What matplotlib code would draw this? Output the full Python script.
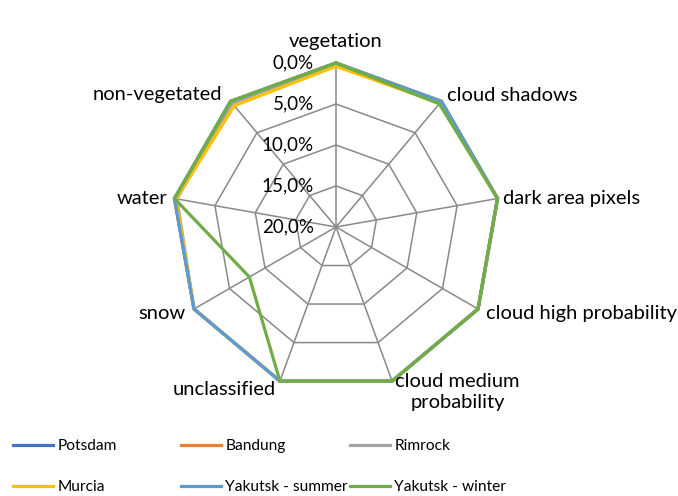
import numpy as np
import matplotlib
matplotlib.use('Agg')
from matplotlib import pyplot as plt
from matplotlib.lines import Line2D

plt.rcParams['font.family'] = ['Lato', 'DejaVu Sans']

categories = ['vegetation', 'cloud shadows', 'dark area pixels', 'cloud high probability',
              'cloud medium\nprobability', 'unclassified', 'snow', 'water', 'non-vegetated']
r_ticks = [0, 5, 10, 15, 20]
r_tick_labels = ['0,0%', '5,0%', '10,0%', '15,0%', '20,0%']

potsdam = [0.0, 0.0, 0.0, 0.0, 0.0, 0.0, 0.0, 0.0, 0.0]
bandung = [0.0, 0.0, 0.0, 0.0, 0.0, 0.0, 0.0, 0.0, 0.0]
rimrock = [0.1, 0.1, 0.0, 0.0, 0.0, 0.0, 0.0, 0.3, 0.3]
murcia = [0.4, 0.3, 0.0, 0.0, 0.0, 0.0, 0.0, 0.2, 0.7]
yakutsk_summer = [0.0, 0.0, 0.0, 0.0, 0.0, 0.0, 0.0, 0.0, 0.0]
yakutsk_winter = [0.0, 0.4, 0.0, 0.0, 0.0, 0.0, 7.8, 0.0, 0.0]

series = [('Potsdam', potsdam, '#4472C4'),
          ('Bandung', bandung, '#ED7D31'),
          ('Rimrock', rimrock, '#A5A5A5'),
          ('Murcia', murcia, '#FFC000'),
          ('Yakutsk - summer', yakutsk_summer, '#5B9BD5'),
          ('Yakutsk - winter', yakutsk_winter, '#70AD47')]

n = len(categories)
theta = np.arange(n) * 2 * np.pi / n
theta_closed = np.append(theta, theta[0])

fig = plt.figure(figsize=(6.78, 4.96), dpi=100)
ax = fig.add_axes([0.2537, 0.2117, 0.4838, 0.6613], projection='polar')
ax.set_theta_offset(np.pi / 2)
ax.set_theta_direction(-1)
ax.set_ylim(20, 0)
ax.grid(False)
ax.spines['polar'].set_visible(False)
ax.set_xticks([])
ax.set_yticks([])
ax.patch.set_alpha(0)

grid_col = '#898989'
for t in theta:
    ax.plot([t, t], [20, 0], color=grid_col, lw=1.1, clip_on=False, zorder=1)
for r in r_ticks[:-1]:
    ax.plot(theta_closed, [r] * (n + 1), color=grid_col, lw=1.1, clip_on=False, zorder=1)

for name, vals, col in series:
    ax.plot(theta_closed, vals + vals[:1], color=col, lw=2.3, clip_on=False,
            solid_joinstyle='miter', zorder=3)

fs = 14.5
for r, lab in zip(r_ticks, r_tick_labels):
    ax.annotate(lab, xy=(0, r), xytext=(-16, 0), textcoords='offset points',
                ha='right', va='center', fontsize=13.5)

label_pos = [((0, 9), 'center', 'bottom'),
             ((4, 4), 'left', 'center'),
             ((4, 0), 'left', 'center'),
             ((6, -3), 'left', 'center'),
             ((47, -8), 'center', 'center'),
             ((-3, -6), 'right', 'center'),
             ((-6, -3), 'right', 'center'),
             ((-5, 0), 'right', 'center'),
             ((-6, 5), 'right', 'center')]
for t, cat, (off, ha, va) in zip(theta, categories, label_pos):
    ax.annotate(cat, xy=(t, 0), xytext=off, textcoords='offset points',
                ha=ha, va=va, fontsize=fs, linespacing=1.3)

handles = [Line2D([], [], color=col, lw=2.3) for _, _, col in series]
names = [s[0] for s in series]
col_x = [0.019, 0.267, 0.516]
for i in range(3):
    fig.legend([handles[i], handles[i + 3]], [names[i], names[i + 3]],
               loc='upper left', bbox_to_anchor=(col_x[i], 0.115), frameon=False,
               fontsize=11.2, handlelength=2.6, handletextpad=0.25,
               labelspacing=1.75, borderaxespad=0, borderpad=0)

fig.savefig('out.png', dpi=100)
